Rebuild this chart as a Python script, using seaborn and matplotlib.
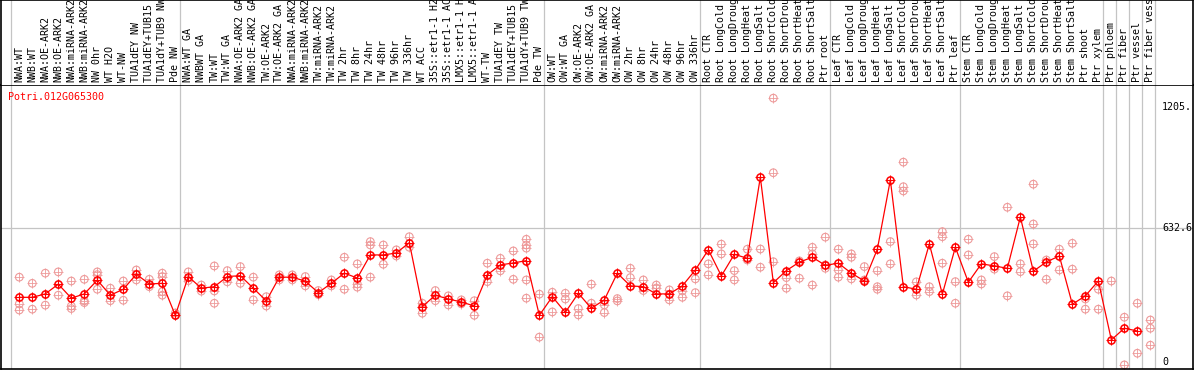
import matplotlib
matplotlib.use("Agg")
import matplotlib.pyplot as plt
import matplotlib.transforms as mtransforms
import seaborn as sns
import pandas as pd

# sample names in plotting order
samples = [
    "NWA:WT", "NWB:WT", "NWA:OE-ARK2", "NWB:OE-ARK2", "NWA:miRNA-ARK2", "NWB:miRNA-ARK2",
    "NW 0hr", "WT H2O", "WT-NW", "TUA1dEY NW", "TUA1dEY+TUB15 NW", "TUA1dY+TUB9 NW", "Pde NW",
    "NWA:WT GA", "NWBWT GA", "TW:WT", "TW:WT GA", "NWA:OE-ARK2 GA", "NWB:OE-ARK2 GA",
    "TW:OE-ARK2", "TW:OE-ARK2 GA", "NWA:miRNA-ARK2", "NWB:miRNA-ARK2", "TW:miRNA-ARK2",
    "TW:miRNA-ARK2", "TW 2hr", "TW 8hr", "TW 24hr", "TW 48hr", "TW 96hr", "TW 336hr",
    "WT ACC", "35S::etr1-1 H2O", "35S::etr1-1 ACC", "LMX5::etr1-1 H2O", "LMX5::etr1-1 ACC",
    "WT-TW", "TUA1dEY TW", "TUA1dEY+TUB15 TW", "TUA1dY+TUB9 TW", "Pde TW",
    "OW:WT", "OW:WT GA", "OW:OE-ARK2", "OW:OE-ARK2 GA", "OW:miRNA-ARK2", "OW:miRNA-ARK2",
    "OW 2hr", "OW 8hr", "OW 24hr", "OW 48hr", "OW 96hr", "OW 336hr",
    "Root CTR", "Root LongCold", "Root LongDrought", "Root LongHeat", "Root LongSalt",
    "Root ShortCold", "Root ShortDrought", "Root ShortHeat", "Root ShortSalt", "Ptr root",
    "Leaf CTR", "Leaf LongCold", "Leaf LongDrought", "Leaf LongHeat", "Leaf LongSalt",
    "Leaf ShortCold", "Leaf ShortDrought", "Leaf ShortHeat", "Leaf ShortSalt", "Ptr leaf",
    "Stem CTR", "Stem LongCold", "Stem LongDrought", "Stem LongHeat", "Stem LongSalt",
    "Stem ShortCold", "Stem ShortDrought", "Stem ShortHeat", "Stem ShortSalt", "Ptr shoot",
    "Ptr xylem", "Ptr phloem", "Ptr fiber", "Ptr vessel", "Ptr fiber vessel",
]

# mean expression per sample
means = [
    305, 305, 321, 367, 301, 321, 386, 315, 343, 414, 368, 371, 220,
    403, 348, 355, 403, 407, 348, 288, 400, 400, 381, 327, 371, 419, 396, 505, 505, 514,
    563, 261, 315, 297, 283, 264, 411, 458, 467, 478, 220,
    308, 234, 324, 253, 293, 419, 359, 355, 321, 321, 359, 434,
    529, 406, 508, 489, 872, 374, 431, 471, 494, 456,
    466, 419, 382, 532, 859, 355, 343, 557, 320, 541,
    376, 463, 453, 442, 684, 428, 472, 500, 272, 312, 382,
    104, 159, 146,
]

# replicate values per sample
reps = [
    [400, 274, 245], [371, 249], [419, 268], [425, 315], [382, 264, 252],
    [390, 288, 280], [425, 412, 343], [348, 289], [382, 291], [434, 387],
    [390, 355], [419, 403, 332, 315], [220, 231],
    [425, 384], [363, 334], [453, 335, 277], [431, 378], [450, 371],
    [400, 293], [308, 264], [411, 387], [411, 387], [403, 359],
    [337, 318], [387, 359], [494, 343], [463, 368, 353], [568, 552, 400],
    [552, 461], [529, 500], [591, 541], [277, 230], [337, 289],
    [312, 269], [293, 274], [289, 220], [466, 379], [489, 430],
    [524, 390], [579, 552, 537, 387, 301], [320, 117],
    [329, 236], [324, 297], [222, 252], [367, 277], [233, 269],
    [299, 288], [442, 398], [387, 337], [363, 349], [340, 293],
    [335, 305], [392, 327],
    [463, 411], [556, 510], [431, 387], [532, 481], [533, 447],
    [1245, 893, 473], [398, 348], [477, 395], [541, 510, 363], [589, 458, 442],
    [532, 434, 400], [510, 494, 392], [450, 387], [431, 355, 343], [568, 463],
    [943, 827, 807], [378, 316], [355, 332], [615, 591, 466], [379, 277],
    [579, 505], [387, 368], [497, 438], [730, 312], [463, 426],
    [839, 651, 557], [481, 390], [532, 434], [560, 438], [297, 249],
    [343, 249], [382], [211, -14], [277, 41], [198, 159, 79],
]

# first sample index of each group (last entry closes the final group)
group_starts = [0, 13, 41, 53, 63, 73, 84, 85, 86, 87, 88]
tick_values = [1205, 632.6, 0]
tick_text = ["1205.", "632.6", "0"]
gene = "Potri.012G065300"

mean_df = pd.DataFrame({"idx": range(len(means)), "value": means})
rep_df = pd.DataFrame(
    [(i, v) for i, vals in enumerate(reps) for v in vals], columns=["idx", "value"]
)

sns.set_style("white")
plt.rcParams["font.family"] = ["DejaVu Sans Mono"]

W, H = 1194, 370
fig = plt.figure(figsize=(W / 100, H / 100), dpi=100)
ax = fig.add_axes([1 / W, 1.5 / H, 1192 / W, 283.5 / H])
lab = fig.add_axes([1 / W, 285 / H, 1192 / W, 85 / H], sharex=ax)

grid_c = "#c4c4c4"
pink = "#ee9a9a"

for b in group_starts:
    ax.axvline(b - 0.64, color=grid_c, lw=0.9, zorder=1)
    lab.axvline(b - 0.64, color=grid_c, lw=0.9, zorder=1)
ax.axhline(632.6, color=grid_c, lw=0.9, zorder=1)

# replicates
sns.scatterplot(data=rep_df, x="idx", y="value", ax=ax, marker="o", s=30,
                color=pink, facecolor="none", edgecolor=pink, linewidth=0.8, zorder=2)
sns.scatterplot(data=rep_df, x="idx", y="value", ax=ax, marker="+", s=45,
                color=pink, linewidth=0.6, zorder=2)

# means
sns.lineplot(data=mean_df, x="idx", y="value", ax=ax, color="red", lw=0.9,
             marker="o", markersize=5.2, markerfacecolor="none",
             markeredgecolor="red", markeredgewidth=1.1, zorder=4)
sns.scatterplot(data=mean_df, x="idx", y="value", ax=ax, marker="+", s=48,
                color="red", linewidth=0.8, zorder=4)

ax.set_xlim(-1.408, 90.28)
ax.set_ylim(-31, 1307)
ax.set_xlabel("")
ax.set_ylabel("")
ax.set_xticks([])
ax.set_yticks([])
for sp in ax.spines.values():
    sp.set_color("black")
    sp.set_linewidth(1.2)

lab.set_ylim(0, 1)
lab.set_xticks([])
lab.set_yticks([])
lab.spines["bottom"].set_visible(False)
for side in ["left", "top", "right"]:
    lab.spines[side].set_color("black")
    lab.spines[side].set_linewidth(1.2)

trans = mtransforms.blended_transform_factory(lab.transData, lab.transAxes)
for i, name in enumerate(samples):
    lab.text(i, 3 / 85, name, rotation=90, ha="center", va="bottom",
             fontsize=7.2, color="black", transform=trans, clip_on=True)

ytrans = mtransforms.blended_transform_factory(ax.transAxes, ax.transData)
for v, t in zip(tick_values, tick_text):
    ax.text(1161 / 1192, v, t, ha="left", va="center", fontsize=7.2,
            color="black", transform=ytrans)

fig.text(8 / W, 1 - 97 / H, gene, ha="left", va="center", fontsize=7.2, color="red")

fig.savefig("out.png", dpi=100)
